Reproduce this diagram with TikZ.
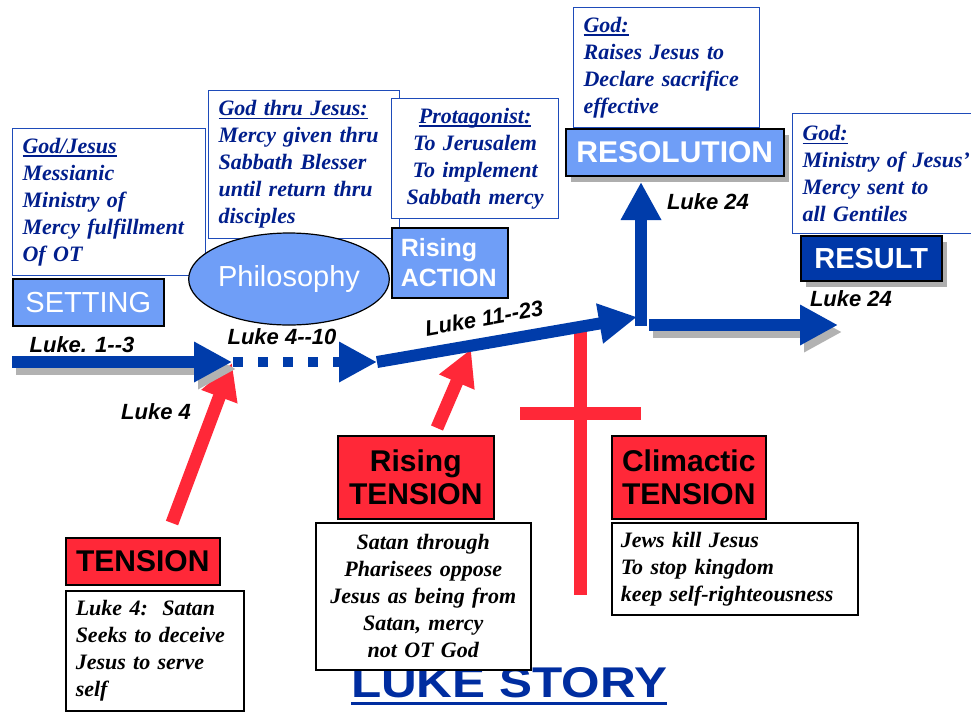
\documentclass[tikz,border=0pt]{standalone}
\usepackage{fontspec}
\setmainfont{Liberation Serif}
\setsansfont{Liberation Sans}
\usepackage{tikz}
\usetikzlibrary{shapes,arrows.meta,shadows}
\newcommand{\ulword}[1]{{\setbox0\hbox{#1}\rlap{\rule[-3.5pt]{\wd0}{1.6pt}}\box0}}
\definecolor{arrowblue}{RGB}{0,60,170}
\definecolor{paleblue}{RGB}{111,158,247}
\definecolor{deepblue}{RGB}{0,56,168}
\definecolor{inkblue}{RGB}{0,30,140}
\definecolor{rimblue}{RGB}{30,75,185}
\definecolor{alarmred}{RGB}{255,40,56}
\definecolor{titleblue}{RGB}{0,45,160}
\tikzstyle{bluenote} = [rectangle, draw=rimblue, line width=1.2pt, fill=white,
    inner xsep=10pt, anchor=north west, text=inkblue,
    font=\fontsize{22}{27}\selectfont\bfseries\itshape]
\tikzstyle{blacknote} = [rectangle, draw=black, line width=1.5pt, fill=white,
    inner xsep=10pt, anchor=north west,
    font=\fontsize{22}{27}\selectfont\bfseries\itshape]
\tikzstyle{bluetag} = [rectangle, draw=black, line width=1.5pt, fill=paleblue,
    text=white, anchor=north west, inner sep=0pt,
    font=\sffamily\fontsize{29}{30}\selectfont]
\tikzstyle{redtag} = [rectangle, draw=black, line width=1.5pt, fill=alarmred,
    anchor=north west, align=center, inner sep=0pt,
    font=\sffamily\bfseries\fontsize{30}{33}\selectfont]
\tikzstyle{tagshadow} = [drop shadow={shadow xshift=5pt, shadow yshift=-6pt,
    opacity=.45, fill=black!70}]
\tikzstyle{lukelabel} = [inner sep=0pt,
    font=\sffamily\bfseries\itshape\fontsize{22}{24}\selectfont]
\tikzstyle{bluearrow} = [draw=arrowblue, line width=12pt,
    -{Triangle[length=38pt,width=38pt]}]
\tikzstyle{arrowshadow} = [draw=black!30, transform canvas={xshift=4pt,yshift=-7pt}]
\tikzstyle{redarrow} = [draw=alarmred, line width=13pt,
    -{Triangle[length=36pt,width=36pt]}]
\tikzstyle{crossbar} = [draw=alarmred, line width=13pt]

\begin{document}
\begin{tikzpicture}[x=1pt, y=-1pt]
  \clip (0,0) rectangle (971,713);
  \fill[white] (0,0) rectangle (971,713);

  \coordinate (s0) at (12,362);
  \coordinate (s1) at (232,362);
  \coordinate (d0) at (233,362);
  \coordinate (d1) at (377,362);
  \coordinate (m1) at (637,317);
  \coordinate (bend) at (641,326);
  \coordinate (up) at (641,182);
  \coordinate (r0) at (649,325);
  \coordinate (r1) at (838,325);
  \coordinate (t0) at (172,523);
  \coordinate (t1) at (232,363);
  \coordinate (q0) at (437,428);
  \coordinate (q1) at (471,349);
  \coordinate (cv0) at (580,325);
  \coordinate (cv1) at (580,595);
  \coordinate (ch0) at (520,413);
  \coordinate (ch1) at (641,413);

  \node[font=\sffamily\bfseries\fontsize{43}{45}\selectfont, text=titleblue,
    anchor=base, inner sep=0pt] (title) at (509,697)
    {\scalebox{1.15}[1]{LUKE STORY}};
  \draw[titleblue, line width=3pt] ([yshift=-6pt]title.south west)
    -- ([yshift=-6pt]title.south east);

  \draw[crossbar] (cv0) -- (cv1);
  \draw[crossbar] (ch0) -- (ch1);
  \draw[redarrow] (t0) -- (t1);
  \draw[redarrow] (q0) -- (q1);

  \draw[bluearrow, arrowshadow] (s0) -- (s1);
  \draw[bluearrow, arrowshadow] (r0) -- (r1);
  \draw[bluearrow] (s0) -- (s1);
  \draw[bluearrow, line width=10pt, dash pattern=on 10pt off 15pt] (d0) -- (d1);
  \draw[bluearrow] (d1) -- (m1);
  \draw[bluearrow] (bend) -- (up);
  \draw[bluearrow] (r0) -- (r1);

  \node[bluenote, minimum width=193pt, minimum height=147pt, text width=173pt,
    align=left] (setnote) at (12,128)
    {\ulword{God/Jesus}\\Messianic\\Ministry of\\Mercy fulfillment\\Of OT};
  \node[bluetag, minimum width=151pt, minimum height=47pt] (setting) at (12,278) {SETTING};

  \node[bluenote, minimum width=191pt, minimum height=148pt, text width=171pt,
    align=left] (philnote) at (208,90)
    {\ulword{God thru Jesus:}\\Mercy given thru\\Sabbath Blesser\\until return thru\\disciples};
  \node[ellipse, draw=black, line width=1.2pt, fill=paleblue, text=white,
    minimum width=144pt, minimum height=92pt, inner sep=0pt,
    font=\sffamily\fontsize{29}{30}\selectfont] (philo) at (289,279) {Philosophy};

  \node[bluenote, minimum width=167pt, minimum height=120pt, text width=147pt,
    align=center] (protnote) at (391,98)
    {\ulword{Protagonist:}\\To Jerusalem\\To implement\\Sabbath mercy};
  \node[bluetag, minimum width=116pt, minimum height=70pt, text width=98pt,
    inner xsep=9pt, align=left, font=\sffamily\bfseries\fontsize{25}{30}\selectfont]
    (action) at (391,227) {Rising\\ACTION};

  \node[bluenote, minimum width=186pt, minimum height=120pt, text width=166pt,
    align=left] (resnote) at (573,7)
    {\ulword{God:}\\Raises Jesus to\\Declare sacrifice\\effective};
  \node[bluetag, tagshadow, minimum width=218pt, minimum height=47pt,
    font=\sffamily\bfseries\fontsize{30}{30}\selectfont] (resolution) at (565,128) {RESOLUTION};

  \node[bluenote, minimum width=200pt, minimum height=120pt, text width=180pt,
    align=left] (resultnote) at (792,113)
    {\ulword{God:}\\Ministry of Jesus’\\Mercy sent to\\all Gentiles};
  \node[bluetag, tagshadow, fill=deepblue, minimum width=141pt, minimum height=45pt,
    font=\sffamily\bfseries\fontsize{29}{30}\selectfont] (result) at (800,235) {RESULT};

  \node[redtag, minimum width=154pt, minimum height=47pt] (tension) at (65,537) {TENSION};
  \node[blacknote, minimum width=178pt, minimum height=120pt, text width=158pt,
    align=left] (tensnote) at (65,590)
    {Luke 4:\ \ Satan\\Seeks to deceive\\Jesus to serve\\self};

  \node[redtag, minimum width=156pt, minimum height=83pt] (risetag) at (337,435) {Rising\\TENSION};
  \node[blacknote, minimum width=215pt, minimum height=147pt, text width=195pt,
    align=center] (risnote) at (315,522)
    {Satan through\\Pharisees oppose\\Jesus as being from\\Satan, mercy\\not OT God};

  \node[redtag, minimum width=154pt, minimum height=83pt] (climtag) at (611,435) {Climactic\\TENSION};
  \node[blacknote, minimum width=246pt, minimum height=92pt, text width=228pt,
    inner xsep=9pt, align=left] (climnote) at (611,522)
    {Jews kill Jesus\\To stop kingdom\\keep self-righteousness};

  \node[lukelabel] (l13) at (82,345) {Luke. 1-\kern0pt-3};
  \node[lukelabel] (l410) at (282,337) {Luke 4-\kern0pt-10};
  \node[lukelabel, rotate=10] (l1123) at (484,318) {Luke 11-\kern0pt-23};
  \node[lukelabel] (l4) at (156,412) {Luke 4};
  \node[lukelabel] (l24a) at (708,202) {Luke 24};
  \node[lukelabel] (l24b) at (851,299) {Luke 24};
\end{tikzpicture}
\end{document}
